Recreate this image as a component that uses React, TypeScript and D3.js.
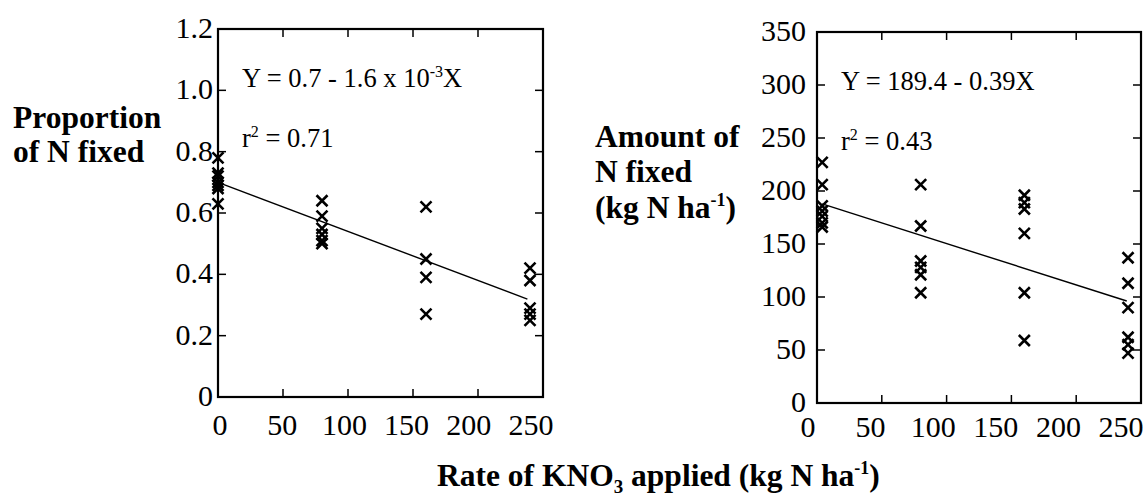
import React from "react";
import * as d3 from "d3";

// ---------- data ----------
const xTickValues = [0, 50, 100, 150, 200, 250];

// Proportion of N fixed
const propYTicks = [0, 0.2, 0.4, 0.6, 0.8, 1.0, 1.2];
const propRate = [0, 0, 0, 0, 0, 0, 0, 80, 80, 80, 80, 80, 80, 160, 160, 160, 160, 240, 240, 240, 240, 240];
const propValue = [0.78, 0.73, 0.72, 0.70, 0.69, 0.68, 0.63, 0.64, 0.59, 0.55, 0.53, 0.51, 0.50, 0.62, 0.45, 0.39, 0.27, 0.42, 0.38, 0.29, 0.27, 0.25];
const propFit = { intercept: 0.7, slope: -0.0016, from: 0, to: 238 };

// Amount of N fixed
const amtYTicks = [0, 50, 100, 150, 200, 250, 300, 350];
const amtRate = [4, 4, 4, 4, 4, 4, 4, 80, 80, 80, 80, 80, 80, 160, 160, 160, 160, 160, 160, 240, 240, 240, 240, 240, 240];
const amtValue = [227, 206, 186, 181, 176, 170, 166, 206, 167, 134, 128, 121, 104, 196, 189, 183, 160, 104, 59, 137, 113, 90, 62, 55, 47];
const amtFit = { intercept: 189.4, slope: -0.39, from: 4, to: 239 };

const FONT = "Liberation Serif, DejaVu Serif, serif";

type PanelProps = {
  x0: number; x1: number; y0: number; y1: number;
  lx0: number; lx1: number; lBase: number;
  yMax: number; yTicks: number[]; fmt: (v: number) => string;
  rate: number[]; value: number[];
  fit: { intercept: number; slope: number; from: number; to: number };
  labelGap: number;
  eq: React.ReactNode; r2: string;
};

function Panel(p: PanelProps) {
  const x = d3.scaleLinear().domain([0, 250]).range([p.x0, p.x1]);
  const xl = d3.scaleLinear().domain([0, 250]).range([p.lx0, p.lx1]);
  const y = d3.scaleLinear().domain([0, p.yMax]).range([p.y1, p.y0]);
  const tl = 8;
  const line = d3.line<number>().x((d) => x(d)).y((d) => y(p.fit.intercept + p.fit.slope * d));
  const innerX = xTickValues.filter((v) => v > 0 && v < 250);
  const innerY = p.yTicks.filter((v) => v > 0 && v < p.yMax);
  return (
    <g>
      <rect x={p.x0} y={p.y0} width={p.x1 - p.x0} height={p.y1 - p.y0} fill="none" stroke="#000" strokeWidth={2.2} />
      {innerX.map((v) => (
        <g key={"xt" + v}>
          <line x1={x(v)} x2={x(v)} y1={p.y1} y2={p.y1 - tl} stroke="#000" strokeWidth={1.5} />
          <line x1={x(v)} x2={x(v)} y1={p.y0} y2={p.y0 + tl} stroke="#000" strokeWidth={1.5} />
        </g>
      ))}
      {innerY.map((v) => (
        <g key={"yt" + v}>
          <line x1={p.x0} x2={p.x0 + tl} y1={y(v)} y2={y(v)} stroke="#000" strokeWidth={1.5} />
          <line x1={p.x1} x2={p.x1 - tl} y1={y(v)} y2={y(v)} stroke="#000" strokeWidth={1.5} />
        </g>
      ))}
      {xTickValues.map((v) => (
        <text key={"xl" + v} x={xl(v)} y={p.lBase} textAnchor="middle" fontSize={30} fontFamily={FONT}>{v}</text>
      ))}
      {p.yTicks.map((v) => (
        <text key={"yl" + v} x={p.x0 - p.labelGap} y={y(v) + 9} textAnchor="end" fontSize={30} fontFamily={FONT}>{p.fmt(v)}</text>
      ))}
      <path d={line([p.fit.from, p.fit.to]) || ""} stroke="#000" strokeWidth={1.4} fill="none" />
      {p.rate.map((r, i) => (
        <path key={"pt" + i} transform={`translate(${x(r)},${y(p.value[i])})`} d="M-5.5,-5.5L5.5,5.5M-5.5,5.5L5.5,-5.5" stroke="#000" strokeWidth={2.6} fill="none" />
      ))}
      <text x={p.x0 + 24} y={p.y0 + 58} fontSize={26.5} fontFamily={FONT}>{p.eq}</text>
      <text x={p.x0 + 24} y={p.y0 + 118} fontSize={26.5} fontFamily={FONT}>
        <tspan>r</tspan>
        <tspan dy={-10} fontSize={16}>2</tspan>
        <tspan dy={10} fontSize={26.5}>{" = " + p.r2}</tspan>
      </text>
    </g>
  );
}

export default function App() {
  return (
    <svg width={1147} height={501} style={{ position: "absolute", left: 0, top: 0, background: "#fff" }}>
      <rect x={0} y={0} width={1147} height={501} fill="#fff" />
      <Panel
        x0={218} x1={543} y0={29} y1={397} yMax={1.2} yTicks={propYTicks}
        lx0={220} lx1={531} lBase={435}
        fmt={(v) => (v === 0 ? "0" : d3.format(".1f")(v))}
        rate={propRate} value={propValue} fit={propFit} labelGap={5}
        eq={<>
          <tspan>Y = 0.7 - 1.6 x 10</tspan>
          <tspan dy={-10} fontSize={16}>-3</tspan>
          <tspan dy={10} fontSize={26.5}>X</tspan>
        </>}
        r2="0.71"
      />
      <Panel
        x0={817} x1={1141} y0={32} y1={403} yMax={350} yTicks={amtYTicks}
        lx0={808} lx1={1121} lBase={437}
        fmt={(v) => String(v)}
        rate={amtRate} value={amtValue} fit={amtFit} labelGap={11}
        eq={<tspan>Y = 189.4 - 0.39X</tspan>}
        r2="0.43"
      />
      <g fontFamily={FONT} fontWeight="bold" fontSize={31.5}>
        <text x={13} y={128}>Proportion</text>
        <text x={13} y={162}>of N fixed</text>
        <text x={595} y={147}>Amount of</text>
        <text x={595} y={182}>N fixed</text>
        <text x={595} y={218}>
          <tspan>(kg N ha</tspan>
          <tspan dy={-12} fontSize={18}>-1</tspan>
          <tspan dy={12} fontSize={31.5}>)</tspan>
        </text>
        <text x={437} y={486}>
          <tspan>Rate of KNO</tspan>
          <tspan dy={7} fontSize={19}>3</tspan>
          <tspan dy={-7} fontSize={31.5}> applied (kg N ha</tspan>
          <tspan dy={-12} fontSize={18}>-1</tspan>
          <tspan dy={12} fontSize={31.5}>)</tspan>
        </text>
      </g>
    </svg>
  );
}
